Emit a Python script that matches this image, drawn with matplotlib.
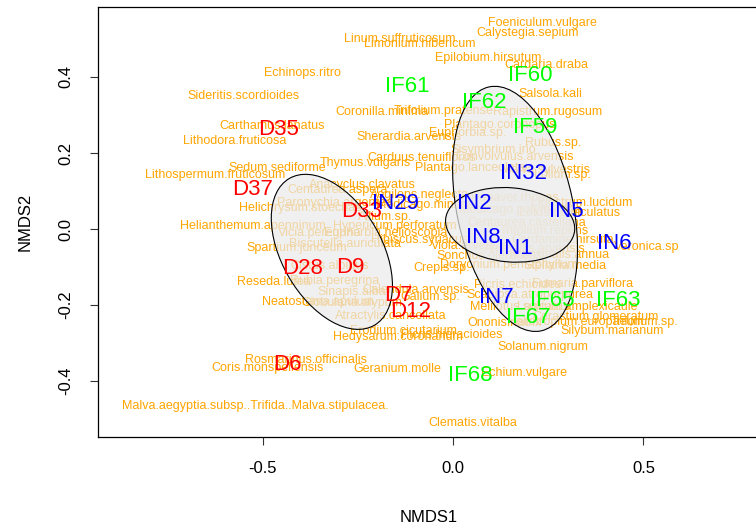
import matplotlib
matplotlib.use('Agg')
import matplotlib.pyplot as plt
from matplotlib.patches import Ellipse

plt.rcParams['font.family'] = ['Liberation Sans', 'DejaVu Sans']

# species scores (NMDS1, NMDS2)
species = [
    'Foeniculum.vulgare', 'Calystegia.sepium', 'Linum.suffruticosum', 'Limonium.hibericum',
    'Epilobium.hirsutum', 'Cardaria.draba', 'Echinops.ritro', 'Sideritis.scordioides',
    'Salsola.kali', 'Trifolium.pratense', 'Rapistrum.rugosum', 'Coronilla.minima',
    'Carthamus.lanatus', 'Plantago.coronopus', 'Lithodora.fruticosa', 'Sherardia.arvensis',
    'Euphorbia.sp.', 'Rubus.sp.', 'Sisymbrium.irio', 'Carduus.tenuiflorus',
    'Convolvulus.arvensis', 'Thymus.vulgaris', 'Plantago.lanceolata', 'Sedum.sediforme',
    'Malva.sylvestris', 'Lithospermum.fruticosum', 'Lolium.sp.', 'Anacyclus.clavatus',
    'Centaurea.aspera', 'Aegilops.neglecta', 'Medicago.minima', 'Papaver.rhoeas',
    'Ligustrum.lucidum', 'Paronychia.argentea', 'Helichrysum.stoechas', 'Medicago.polymorpha',
    'Lotus.corniculatus', 'Allium.sp.', 'Centaurea.castellana', 'Helianthemum.apenninum',
    'Hypericum.perforatum', 'Trifolium.repens', 'Vicia.peregrina', 'Euphorbia.helioscopia',
    'Hibiscus.syriacus', 'Cardamine.hirsuta', 'Biscutella.auriculata', 'Spartium.junceum',
    'Veronica.sp', 'Anagallis.arvensis', 'Viola.arvensis', 'Sonchus.oleraceus',
    'Mercurialis.annua', 'Dorycnium.pentaphyllum', 'Stellaria.media', 'Crepis.sp.',
    'Cistus.albidus', 'Rubia.peregrina', 'Reseda.lutea', 'Picris.echioides',
    'Fumaria.parviflora', 'Calendula.arvensis', 'Sinapis.alba', 'Scabiosa.atropurpurea',
    'Galium.sp.', 'Neatostema.apulum', 'Globularia.alypum', 'Melilotus.sulcatus',
    'Lamium.amplexicaule', 'Atractylis.cancellata', 'Cerastium.glomeratum', 'Heliotropium.europaeum',
    'Ononis.natrix', 'Trifolium.sp.', 'Erodium.cicutarium', 'Silybum.marianum',
    'Hedysarum.coronarium', 'Picris.hieracioides', 'Solanum.nigrum', 'Rosmarinus.officinalis',
    'Coris.monspeliensis', 'Geranium.molle', 'Echium.vulgare',
    'Malva.aegyptia.subsp..Trifida..Malva.stipulacea.', 'Clematis.vitalba',
]
sp_x = [
    0.236, 0.197, -0.139, -0.087, 0.092, 0.244, -0.394, -0.549,
    0.255, -0.024, 0.247, -0.186, -0.475, 0.123, -0.572, -0.115,
    0.039, 0.262, 0.105, -0.081, 0.163, -0.231, 0.045, -0.462,
    0.244, -0.625, 0.286, -0.239, -0.302, -0.087, -0.073, 0.163,
    0.339, -0.310, -0.402, 0.176, 0.307, -0.178, 0.194, -0.525,
    -0.152, 0.241, -0.349, -0.178, -0.087, 0.289, -0.283, -0.409,
    0.509, 0.215, 0.045, 0.097, 0.281, 0.147, 0.294, -0.031,
    -0.323, -0.310, -0.470, 0.171, 0.339, -0.097, -0.265, 0.202,
    -0.060, -0.354, -0.265, 0.176, 0.325, -0.163, 0.373, 0.320,
    0.136, 0.504, -0.131, 0.417, -0.144, -0.003, 0.236, -0.386,
    -0.486, -0.147, 0.186, -0.520, 0.052,
]
sp_y = [
    0.542, 0.516, 0.500, 0.487, 0.450, 0.432, 0.411, 0.350,
    0.355, 0.311, 0.308, 0.308, 0.271, 0.274, 0.232, 0.242,
    0.253, 0.226, 0.208, 0.187, 0.189, 0.174, 0.161, 0.161,
    0.155, 0.142, 0.142, 0.116, 0.103, 0.089, 0.063, 0.082,
    0.068, 0.068, 0.055, 0.050, 0.042, 0.032, 0.016, 0.008,
    0.008, -0.005, -0.011, -0.011, -0.029, -0.029, -0.039, -0.050,
    -0.047, -0.053, -0.045, -0.071, -0.068, -0.095, -0.097, -0.103,
    -0.097, -0.137, -0.139, -0.147, -0.145, -0.161, -0.166, -0.174,
    -0.179, -0.192, -0.195, -0.205, -0.205, -0.229, -0.232, -0.245,
    -0.247, -0.245, -0.268, -0.268, -0.284, -0.279, -0.311, -0.345,
    -0.366, -0.368, -0.379, -0.466, -0.511,
]

# site scores and their group
sites = ['D35', 'D37', 'D33', 'D28', 'D9', 'D7', 'D12', 'D6',
         'IN29', 'IN2', 'IN32', 'IN5', 'IN8', 'IN1', 'IN6', 'IN7',
         'IF61', 'IF62', 'IF60', 'IF59', 'IF65', 'IF63', 'IF67', 'IF68']
site_x = [-0.459, -0.525, -0.239, -0.394, -0.270, -0.144, -0.110, -0.436,
          -0.152, 0.055, 0.186, 0.297, 0.079, 0.163, 0.423, 0.115,
          -0.121, 0.081, 0.202, 0.215, 0.260, 0.433, 0.197, 0.045]
site_y = [0.263, 0.103, 0.045, -0.103, -0.100, -0.176, -0.218, -0.355,
          0.068, 0.068, 0.145, 0.047, -0.021, -0.050, -0.037, -0.179,
          0.374, 0.334, 0.403, 0.266, -0.187, -0.187, -0.232, -0.384]
site_group = ['D'] * 8 + ['IN'] * 8 + ['IF'] * 8
group_colors = {'D': '#ff0000', 'IN': '#0000ff', 'IF': '#00ff00'}

# ordiellipse per group: centre, full width/height, rotation (deg)
ell_group = ['D', 'IF', 'IN']
ell_cx = [-0.318, 0.163, 0.150]
ell_cy = [-0.060, 0.053, 0.011]
ell_w = [0.262, 0.305, 0.340]
ell_h = [0.446, 0.656, 0.195]
ell_angle = [30, 12, -5]

fig = plt.figure(figsize=(7.56, 5.27), dpi=100)
ax = fig.add_axes([98 / 756, 90 / 527, 662 / 756, 430 / 527])

# species names first, so the ellipses wash them out
for name, x, y in zip(species, sp_x, sp_y):
    ax.text(x, y, name, color='#ffa500', fontsize=9, ha='center', va='center', zorder=2)

for i in range(len(ell_group)):
    e = Ellipse((ell_cx[i], ell_cy[i]), ell_w[i], ell_h[i], angle=ell_angle[i],
                facecolor=(0.918, 0.918, 0.918, 0.7), edgecolor='black', linewidth=0.8, zorder=3)
    ax.add_patch(e)

for name, x, y, g in zip(sites, site_x, site_y, site_group):
    ax.text(x, y, name, color=group_colors[g], fontsize=16, ha='center', va='center', zorder=5)

ax.set_xlim(-0.932, 0.806)
ax.set_ylim(-0.547, 0.584)
ax.set_xticks([-0.5, 0.0, 0.5])
ax.set_yticks([-0.4, -0.2, 0.0, 0.2, 0.4])
ax.set_xticklabels(['-0.5', '0.0', '0.5'])
ax.set_yticklabels(['-0.4', '-0.2', '0.0', '0.2', '0.4'], rotation=90, va='center')
ax.tick_params(axis='both', direction='out', length=6, width=0.8, labelsize=12, color='#333333')
ax.tick_params(axis='x', pad=11)
ax.tick_params(axis='y', pad=12)
for s in ax.spines.values():
    s.set_linewidth(0.9)

ax.set_xlabel('NMDS1', fontsize=12, labelpad=25)
ax.set_ylabel('NMDS2', fontsize=12, labelpad=18)

fig.savefig('out.png', dpi=100)
